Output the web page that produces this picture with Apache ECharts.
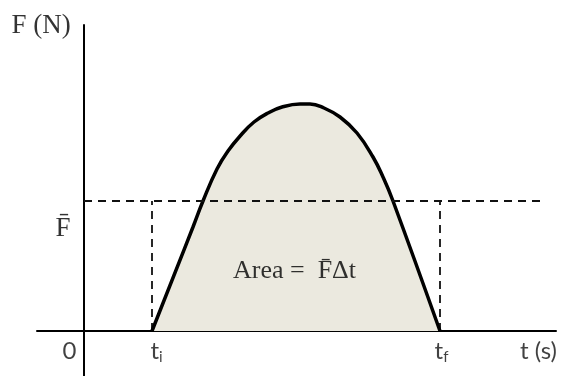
<!DOCTYPE html>
<html lang="en">
<head>
  <meta charset="UTF-8">
  <title>Impulse: force vs time</title>
  <script src="https://cdn.jsdelivr.net/npm/echarts@6/dist/echarts.min.js"></script>
  <style>
    html, body { margin: 0; padding: 0; background: #fff; }
    #chart { width: 569px; height: 376px; }
  </style>
</head>
<body>
<div id="chart"></div>
<script>
  // force curve (t and F in arbitrary units)
  const curveT = [6.8, 10.9, 11.9, 13.3, 14.4, 15.7, 17.0, 18.4, 19.8, 21.6, 22.6, 24.0, 25.6, 27.3, 28.9, 29.9, 30.9, 35.6];
  const curveF = [0, 10.4, 13.0, 16.2, 18.0, 19.6, 20.9, 21.8, 22.4, 22.7, 22.7, 22.3, 21.4, 19.8, 17.4, 15.4, 13.0, 0];
  const tI = 6.8;
  const tF = 35.6;
  const fAvg = 13.0;
  const dashEnd = 45.6;

  // text labels: [t, F, text]
  const labelT = [-4.3, -2.1, -1.45, 7.25, 35.75, 45.45, 21.05];
  const labelF = [30.5, 10.25, -2.05, -2.0, -2.0, -2.05, 5.95];
  const labelText = [
    '{serif|F (N)}',
    '{serif|F\u0304}',
    '{sans|0}',
    '{sans|t}{sub|i}',
    '{sans|t}{sub|f}',
    '{sans|t (s)}',
    '{area|Area =  F\u0304\u0394t}'
  ];

  let chart = echarts.init(document.getElementById('chart'));

  let curveData = curveT.map(function (t, k) { return [t, curveF[k]]; });
  let labelData = labelT.map(function (t, k) { return [t, labelF[k], labelText[k]]; });

  let dashStyle = {color: '#111', width: 1.8, type: [8, 6]};

  let option = {
    animation: false,
    grid: {left: 37, right: 13, top: 25, bottom: 0},
    xAxis: {
      type: 'value',
      min: -4.7,
      max: 47.2,
      axisLine: {onZero: true, lineStyle: {color: '#000', width: 2}},
      axisTick: {show: false},
      axisLabel: {show: false},
      splitLine: {show: false}
    },
    yAxis: {
      type: 'value',
      min: -4.5,
      max: 30.6,
      axisLine: {show: true, onZero: true, lineStyle: {color: '#000', width: 2}},
      axisTick: {show: false},
      axisLabel: {show: false},
      splitLine: {show: false}
    },
    series: [
      {
        type: 'line',
        data: curveData,
        smooth: 0.45,
        symbol: 'none',
        lineStyle: {color: '#000', width: 3.5},
        areaStyle: {color: '#ebe9df', opacity: 1},
        z: 3
      },
      {
        type: 'line',
        data: [[0, fAvg], [dashEnd, fAvg]],
        symbol: 'none',
        lineStyle: dashStyle,
        z: 4
      },
      {
        type: 'line',
        data: [[tI, 0], [tI, fAvg]],
        symbol: 'none',
        lineStyle: dashStyle,
        z: 2
      },
      {
        type: 'line',
        data: [[tF, 0], [tF, fAvg]],
        symbol: 'none',
        lineStyle: dashStyle,
        z: 2
      },
      {
        type: 'scatter',
        data: labelData,
        symbolSize: 0,
        clip: false,
        silent: true,
        z: 5,
        label: {
          show: true,
          position: 'inside',
          formatter: function (p) { return p.data[2]; },
          rich: {
            serif: {fontFamily: 'Liberation Serif', fontSize: 27, color: '#000', lineHeight: 30},
            area: {fontFamily: 'Liberation Serif', fontSize: 26, color: '#000', lineHeight: 30},
            sans: {fontFamily: 'Lato', fontSize: 24, color: '#111', lineHeight: 28},
            sub: {fontFamily: 'Lato', fontSize: 15, color: '#111', lineHeight: 14, verticalAlign: 'bottom'}
          }
        }
      }
    ]
  };
  chart.setOption(option);
</script>
</body>
</html>
